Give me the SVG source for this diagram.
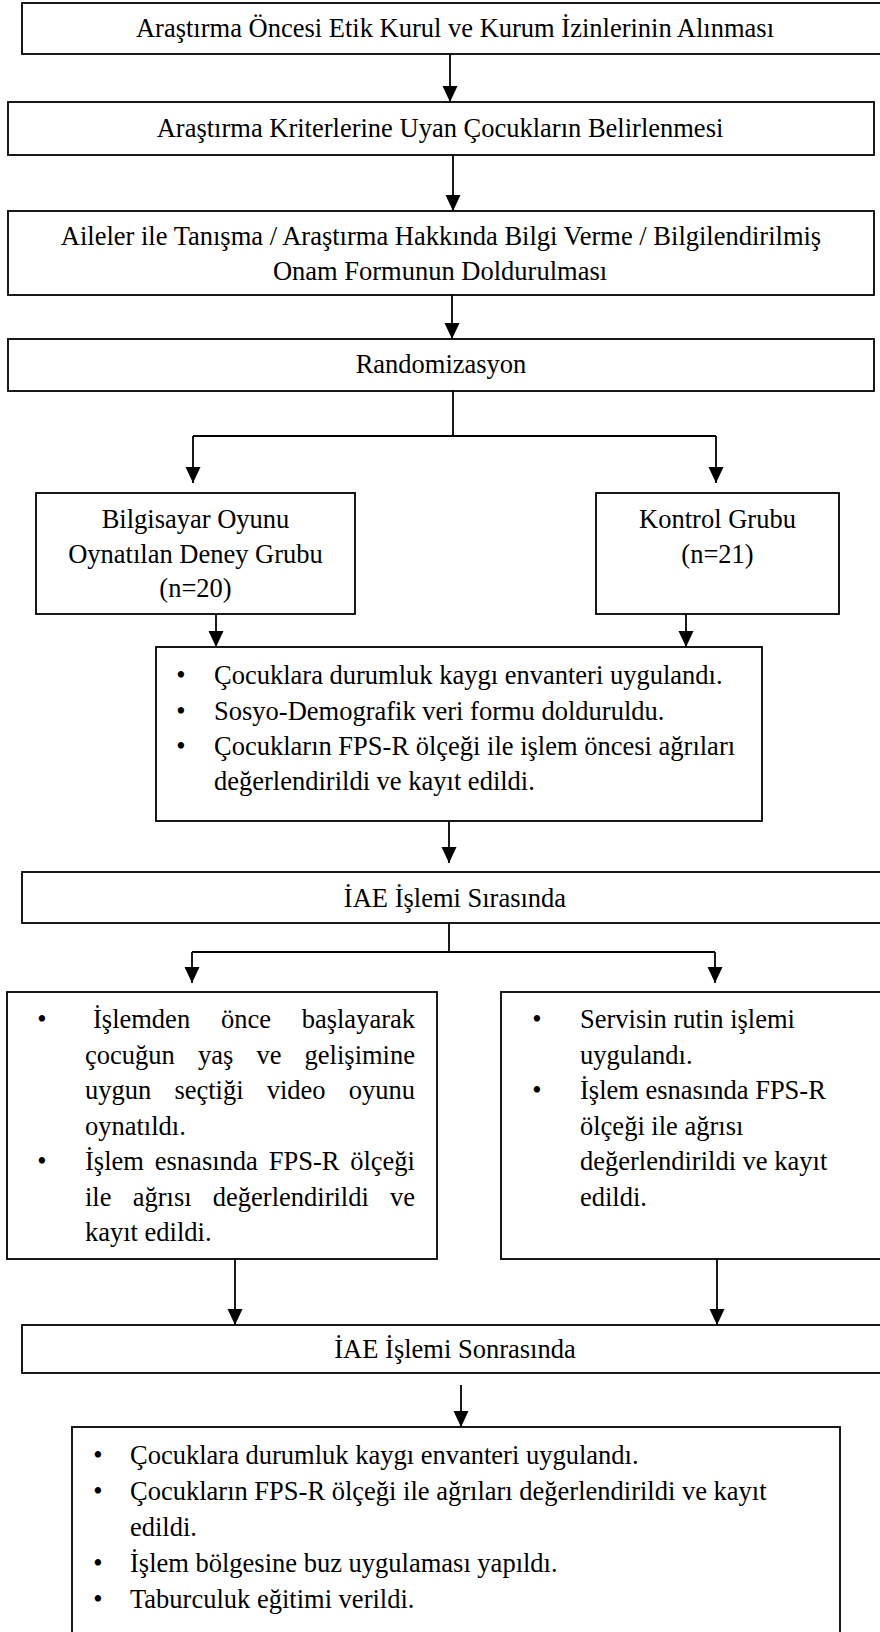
<svg xmlns="http://www.w3.org/2000/svg" width="880" height="1632" viewBox="0 0 880 1632">
<style>
.b{fill:#fff;stroke:#000;stroke-width:1.8}
.c{fill:none;stroke:#000;stroke-width:1.8}
text{font-family:"Liberation Serif","Times New Roman",serif;font-size:26.5px;fill:#000}
.m{text-anchor:middle}
</style>
<defs>
<marker id="ah" markerUnits="userSpaceOnUse" markerWidth="16" markerHeight="16" refX="16" refY="7.5" orient="auto"><path d="M0,0 L16,7.5 L0,15 z" fill="#000"/></marker>
</defs>
<rect width="880" height="1632" fill="#fff"/>
<g id="connectors">
<line class="c" x1="450" y1="54" x2="450" y2="102" marker-end="url(#ah)"/>
<line class="c" x1="453" y1="155" x2="453" y2="211" marker-end="url(#ah)"/>
<line class="c" x1="452" y1="295" x2="452" y2="339" marker-end="url(#ah)"/>
<polyline class="c" points="453,391 453,436"/>
<polyline class="c" points="193,436 716,436"/>
<line class="c" x1="193" y1="436" x2="193" y2="483" marker-end="url(#ah)"/>
<line class="c" x1="716" y1="436" x2="716" y2="483" marker-end="url(#ah)"/>
<line class="c" x1="216" y1="614" x2="216" y2="647" marker-end="url(#ah)"/>
<line class="c" x1="686" y1="614" x2="686" y2="647" marker-end="url(#ah)"/>
<line class="c" x1="449" y1="821" x2="449" y2="863" marker-end="url(#ah)"/>
<polyline class="c" points="449,923 449,952"/>
<polyline class="c" points="192,952 715,952"/>
<line class="c" x1="192" y1="952" x2="192" y2="983" marker-end="url(#ah)"/>
<line class="c" x1="715" y1="952" x2="715" y2="983" marker-end="url(#ah)"/>
<line class="c" x1="235" y1="1259" x2="235" y2="1325" marker-end="url(#ah)"/>
<line class="c" x1="717" y1="1259" x2="717" y2="1325" marker-end="url(#ah)"/>
<line class="c" x1="461" y1="1385" x2="461" y2="1427" marker-end="url(#ah)"/>
</g>
<g id="n1">
<rect class="b" x="22" y="3" width="870" height="51"/>
<text class="m" x="455" y="37">Araştırma Öncesi Etik Kurul ve Kurum İzinlerinin Alınması</text>
</g>
<g id="n2">
<rect class="b" x="8" y="102" width="866" height="53"/>
<text class="m" x="440" y="137">Araştırma Kriterlerine Uyan Çocukların Belirlenmesi</text>
</g>
<g id="n3">
<rect class="b" x="8" y="211" width="866" height="84"/>
<text class="m" x="441" y="245">Aileler ile Tanışma / Araştırma Hakkında Bilgi Verme / Bilgilendirilmiş</text>
<text class="m" x="440" y="280">Onam Formunun Doldurulması</text>
</g>
<g id="n4">
<rect class="b" x="8" y="339" width="866" height="52"/>
<text class="m" x="441" y="373">Randomizasyon</text>
</g>
<g id="n5">
<rect class="b" x="36" y="493" width="319" height="121"/>
<text class="m" x="195.5" y="528">Bilgisayar Oyunu</text>
<text class="m" x="195.5" y="563">Oynatılan Deney Grubu</text>
<text class="m" x="195.5" y="597">(n=20)</text>
</g>
<g id="n6">
<rect class="b" x="596" y="493" width="243" height="121"/>
<text class="m" x="717.5" y="528">Kontrol Grubu</text>
<text class="m" x="717.5" y="563">(n=21)</text>
</g>
<g id="n7">
<rect class="b" x="156" y="647" width="606" height="174"/>
<text x="181" y="684" class="m">•</text><text x="214" y="684">Çocuklara durumluk kaygı envanteri uygulandı.</text>
<text x="181" y="720" class="m">•</text><text x="214" y="720">Sosyo-Demografik veri formu dolduruldu.</text>
<text x="181" y="755" class="m">•</text><text x="214" y="755">Çocukların FPS-R ölçeği ile işlem öncesi ağrıları</text>
<text x="214" y="790">değerlendirildi ve kayıt edildi.</text>
</g>
<g id="n8">
<rect class="b" x="22" y="872" width="870" height="51"/>
<text class="m" x="455" y="907">İAE İşlemi Sırasında</text>
</g>
<g id="n9">
<rect class="b" x="7" y="992" width="430" height="267"/>
<text x="42" y="1028" class="m">•</text>
<text y="1028"><tspan x="93">İşlemden</tspan><tspan x="221">önce</tspan><tspan x="301.7">başlayarak</tspan></text>
<text y="1063.5"><tspan x="85">çocuğun</tspan><tspan x="198">yaş</tspan><tspan x="256.5">ve</tspan><tspan x="304.6">gelişimine</tspan></text>
<text y="1099"><tspan x="85">uygun</tspan><tspan x="174.4">seçtiği</tspan><tspan x="266.7">video</tspan><tspan x="348.75">oyunu</tspan></text>
<text x="85" y="1134.5">oynatıldı.</text>
<text x="42" y="1170" class="m">•</text>
<text y="1170"><tspan x="85">İşlem</tspan><tspan x="154.8">esnasında</tspan><tspan x="268.7">FPS-R</tspan><tspan x="350.2">ölçeği</tspan></text>
<text y="1205.5"><tspan x="85">ile</tspan><tspan x="132.7">ağrısı</tspan><tspan x="212.8">değerlendirildi</tspan><tspan x="390">ve</tspan></text>
<text x="85" y="1241">kayıt edildi.</text>
</g>
<g id="n10">
<rect class="b" x="501" y="992" width="391" height="267"/>
<text x="537" y="1028" class="m">•</text><text x="580" y="1028">Servisin rutin işlemi</text>
<text x="580" y="1063.5">uygulandı.</text>
<text x="537" y="1099" class="m">•</text><text x="580" y="1099">İşlem esnasında FPS-R</text>
<text x="580" y="1134.5">ölçeği ile ağrısı</text>
<text x="580" y="1170">değerlendirildi ve kayıt</text>
<text x="580" y="1205.5">edildi.</text>
</g>
<g id="n11">
<rect class="b" x="22" y="1325" width="870" height="48"/>
<text class="m" x="455" y="1358">İAE İşlemi Sonrasında</text>
</g>
<g id="n12">
<rect class="b" x="72" y="1427" width="768" height="220"/>
<text x="98" y="1464" class="m">•</text><text x="130" y="1464">Çocuklara durumluk kaygı envanteri uygulandı.</text>
<text x="98" y="1500" class="m">•</text><text x="130" y="1500">Çocukların FPS-R ölçeği ile ağrıları değerlendirildi ve kayıt</text>
<text x="130" y="1536">edildi.</text>
<text x="98" y="1572" class="m">•</text><text x="130" y="1572">İşlem bölgesine buz uygulaması yapıldı.</text>
<text x="98" y="1608" class="m">•</text><text x="130" y="1608">Taburculuk eğitimi verildi.</text>
</g>
</svg>
